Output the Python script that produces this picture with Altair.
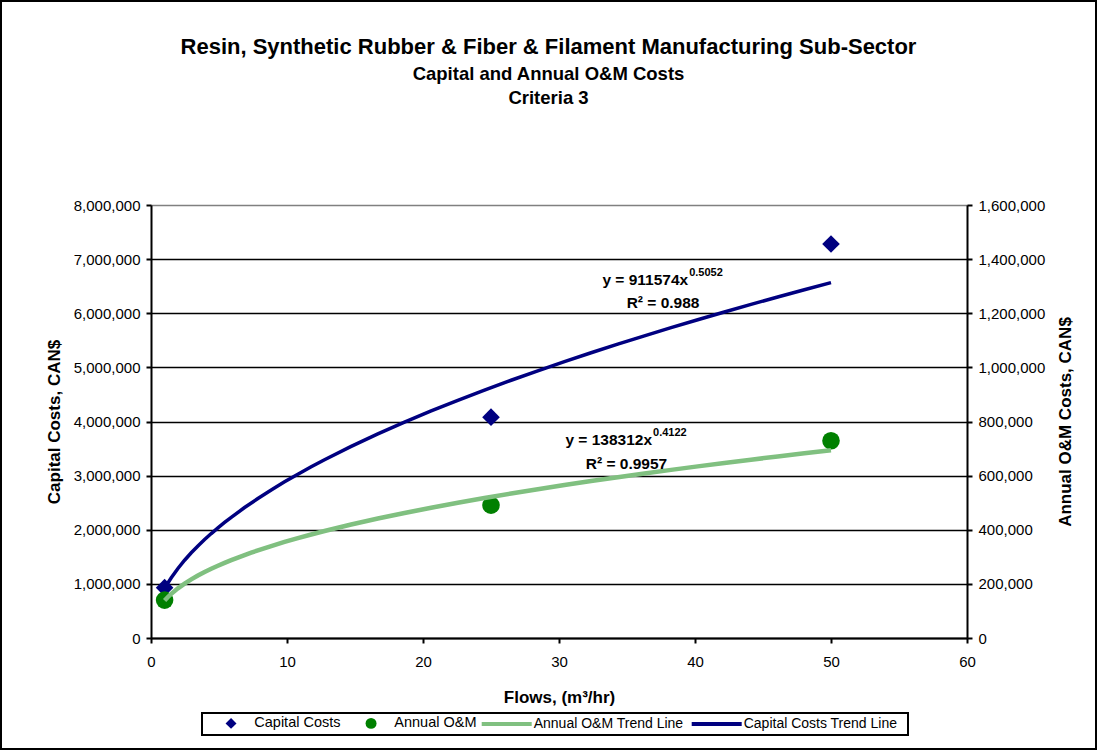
import altair as alt
import pandas as pd

# ---------------- data ----------------
flows = [1, 25, 50]
capital_costs = [930000, 4080000, 7280000]
annual_om = [140000, 491000, 729000]

point_names = ["Capital Costs", "Annual O&M"]
point_colors = ["#000080", "#008000"]
point_shapes = ["diamond", "circle"]
trend_names = ["Annual O&M Trend Line", "Capital Costs Trend Line"]
trend_colors = ["#80C080", "#000080"]

x_ticks = [0, 10, 20, 30, 40, 50, 60]
left_ticks = [0, 1000000, 2000000, 3000000, 4000000, 5000000, 6000000, 7000000, 8000000]
right_ticks = [0, 200000, 400000, 600000, 800000, 1000000, 1200000, 1400000, 1600000]

cap_eq = ["y = 911574x"]
cap_exp = ["0.5052"]
cap_r2 = ["R² = 0.988"]
om_eq = ["y = 138312x"]
om_exp = ["0.4122"]
om_r2 = ["R² = 0.9957"]

# annotation anchor points (data coordinates)
cap_eq_at = [39.5, 6522000]
cap_r2_at = [37.65, 6097000]
om_eq_at = [36.84, 713000]
om_r2_at = [34.96, 624500]

FONT = "Liberation Sans"

cap_df = pd.DataFrame({"flow": flows, "value": capital_costs, "series": point_names[0]})
om_df = pd.DataFrame({"flow": flows, "value": annual_om, "series": point_names[1]})

# ---------------- legends ----------------
point_legend = alt.Legend(
    title=None, orient="none", legendX=72.8, legendY=511, direction="horizontal",
    labelFont=FONT, labelFontSize=14.5, labelColor="black", labelOffset=16,
    columnPadding=23, padding=0, symbolSize=120, symbolStrokeWidth=0,
    symbolOpacity=1,
)
trend_legend = alt.Legend(
    title=None, orient="none", legendX=328.7, legendY=492, direction="horizontal",
    labelFont=FONT, labelFontSize=14, labelColor="black", labelOffset=0,
    columnPadding=0, padding=0, symbolType="stroke", symbolSize=2500,
    symbolStrokeWidth=4, symbolOpacity=1,
)

point_color = alt.Color("series:N", scale=alt.Scale(domain=point_names, range=point_colors), legend=point_legend)
point_shape = alt.Shape("series:N", scale=alt.Scale(domain=point_names, range=point_shapes), legend=point_legend)
trend_stroke = alt.Stroke("series:N", scale=alt.Scale(domain=trend_names, range=trend_colors), legend=trend_legend)

# ---------------- axes ----------------
axis_common = dict(
    labelFont=FONT, labelFontSize=15, labelColor="black", labelFlush=False,
    titleFont=FONT, titleFontSize=17, titleFontWeight="bold", titleColor="black",
    domainColor="black", domainWidth=2, tickColor="black", tickWidth=2, tickSize=5,
)

X = alt.X(
    "flow:Q",
    scale=alt.Scale(domain=[0, 60], nice=False, zero=False),
    axis=alt.Axis(values=x_ticks, title="Flows, (m³/hr)", grid=False,
                  labelPadding=11, titlePadding=20, **axis_common),
)

Y_left = alt.Y(
    "value:Q",
    scale=alt.Scale(domain=[0, 8000000], nice=False),
    axis=alt.Axis(
        values=left_ticks, format=",d", title="Capital Costs, CAN$", orient="left",
        grid=True,
        gridColor={"condition": {"test": "datum.value >= 8000000", "value": "#808080"}, "value": "black"},
        gridWidth=1.5, labelPadding=6, titlePadding=10, **axis_common,
    ),
)

Y_right = alt.Y(
    "value:Q",
    scale=alt.Scale(domain=[0, 1600000], nice=False),
    axis=alt.Axis(
        values=right_ticks, format=",d", title="Annual O&M Costs, CAN$", orient="right",
        grid=False, titleAngle=270, labelPadding=6, titlePadding=30, **axis_common,
    ),
)

# ---------------- helpers ----------------
def eq_layers(eq, exp, r2, eq_at, r2_at, Y):
    eq_df = pd.DataFrame({"flow": [eq_at[0]], "value": [eq_at[1]], "t": eq})
    exp_df = pd.DataFrame({"flow": [eq_at[0]], "value": [eq_at[1]], "t": exp})
    r2_df = pd.DataFrame({"flow": [r2_at[0]], "value": [r2_at[1]], "t": r2})
    a = alt.Chart(eq_df).mark_text(font=FONT, fontSize=15.5, fontWeight="bold", align="right",
                                   baseline="alphabetic", color="black").encode(x=X, y=Y, text="t:N")
    b = alt.Chart(exp_df).mark_text(font=FONT, fontSize=11, fontWeight="bold", align="left",
                                    baseline="alphabetic", dx=1, dy=-9, color="black").encode(x=X, y=Y, text="t:N")
    c = alt.Chart(r2_df).mark_text(font=FONT, fontSize=15.5, fontWeight="bold", align="center",
                                   baseline="alphabetic", color="black").encode(x=X, y=Y, text="t:N")
    return [a, b, c]

# ---------------- capital layer ----------------
cap_points = alt.Chart(cap_df).mark_point(filled=True, size=310, opacity=1).encode(
    x=X, y=Y_left, color=point_color, shape=point_shape
)
cap_trend = (
    alt.Chart(cap_df)
    .transform_regression("flow", "value", method="pow")
    .transform_calculate(series=f"'{trend_names[1]}'")
    .mark_line(strokeWidth=3.5)
    .encode(x=X, y=Y_left, stroke=trend_stroke)
)
cap_layer = alt.layer(cap_points, cap_trend, *eq_layers(cap_eq, cap_exp, cap_r2, cap_eq_at, cap_r2_at, Y_left))

# ---------------- O&M layer ----------------
om_points = alt.Chart(om_df).mark_point(filled=True, size=310, opacity=1).encode(
    x=X, y=Y_right, color=point_color, shape=point_shape
)
om_trend = (
    alt.Chart(om_df)
    .transform_regression("flow", "value", method="pow")
    .transform_calculate(series=f"'{trend_names[0]}'")
    .mark_line(strokeWidth=4.5)
    .encode(x=X, y=Y_right, stroke=trend_stroke)
)
om_layer = alt.layer(om_points, om_trend, *eq_layers(om_eq, om_exp, om_r2, om_eq_at, om_r2_at, Y_right))

# ---------------- decorations: outer frame and legend box ----------------
deco = pd.DataFrame({"k": [0]})
frame = alt.Chart(deco).mark_rect(fill="transparent", stroke="black", strokeWidth=2).encode(
    x=alt.value(-150), x2=alt.value(945), y=alt.value(-204), y2=alt.value(544)
)
legend_box = alt.Chart(deco).mark_rect(fill="transparent", stroke="black", strokeWidth=2).encode(
    x=alt.value(51), x2=alt.value(757), y=alt.value(508), y2=alt.value(530)
)

chart = (
    alt.layer(cap_layer, om_layer, frame, legend_box)
    .resolve_scale(y="independent")
    .properties(
        width=816,
        height=433,
        padding=0,
        background="white",
        title=alt.TitleParams(
            text="Resin, Synthetic Rubber & Fiber & Filament Manufacturing Sub-Sector",
            subtitle=["Capital and Annual O&M Costs", "Criteria 3"],
            font=FONT, fontSize=22, fontWeight="bold", color="black",
            subtitleFont=FONT, subtitleFontSize=18.5, subtitleFontWeight="bold",
            subtitleColor="black", subtitleLineHeight=24, subtitlePadding=6,
            anchor="middle", frame="bounds", offset=-108,
        ),
    )
    .configure_view(stroke="#808080", strokeWidth=1)
)

chart.save("out.html", embed_options={"renderer": "svg", "actions": False})
